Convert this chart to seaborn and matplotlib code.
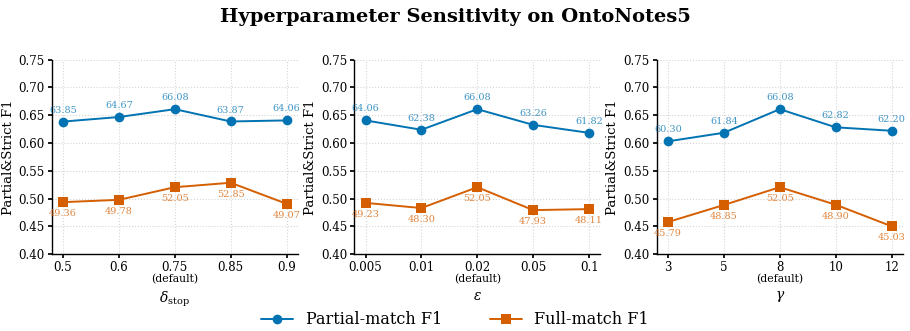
import numpy as np
import pandas as pd
import matplotlib
matplotlib.use("Agg")
import matplotlib.pyplot as plt
import seaborn as sns

sns.set_theme(style="ticks")
plt.rcParams['font.family'] = ['DejaVu Serif']
plt.rcParams['mathtext.fontset'] = 'dejavuserif'
plt.rcParams['text.color'] = 'black'
plt.rcParams['axes.labelcolor'] = 'black'
plt.rcParams['xtick.color'] = 'black'
plt.rcParams['ytick.color'] = 'black'

# data
stop_ticks = ['0.5', '0.6', '0.75', '0.85', '0.9']
stop_partial = [63.85, 64.67, 66.08, 63.87, 64.06]
stop_full = [49.36, 49.78, 52.05, 52.85, 49.07]

eps_ticks = ['0.005', '0.01', '0.02', '0.05', '0.1']
eps_partial = [64.06, 62.38, 66.08, 63.26, 61.82]
eps_full = [49.23, 48.30, 52.05, 47.93, 48.11]

gamma_ticks = ['3', '5', '8', '10', '12']
gamma_partial = [60.30, 61.84, 66.08, 62.82, 62.20]
gamma_full = [45.79, 48.85, 52.05, 48.90, 45.03]

default_idx = 2
xlabels = [r'$\delta_{\mathrm{stop}}$', r'$\varepsilon$', r'$\gamma$']

panels = [
    (stop_ticks, stop_partial, stop_full),
    (eps_ticks, eps_partial, eps_full),
    (gamma_ticks, gamma_partial, gamma_full),
]

blue = '#0173b2'
orange = '#d55e00'

fig, axes = plt.subplots(1, 3, figsize=(9.1, 3.31), dpi=100)
fig.subplots_adjust(left=0.057, right=0.992, top=0.82, bottom=0.232, wspace=0.23)

for ax, (ticks, partial, full), xl in zip(axes, panels, xlabels):
    df = pd.DataFrame({
        'x': np.arange(len(ticks)),
        'partial': np.array(partial) / 100,
        'full': np.array(full) / 100,
    })
    sns.lineplot(data=df, x='x', y='partial', ax=ax, color=blue, marker='o',
                 markersize=7, markeredgewidth=0, linewidth=1.4,
                 label='Partial-match F1', legend=False)
    sns.lineplot(data=df, x='x', y='full', ax=ax, color=orange, marker='s',
                 markersize=7, markeredgewidth=0, linewidth=1.4,
                 label='Full-match F1', legend=False)
    for xi, p, f in zip(df['x'], partial, full):
        ax.annotate(f'{p:.2f}', (xi, p / 100), xytext=(0, 5), textcoords='offset points',
                    ha='center', va='bottom', fontsize=7, color=blue, alpha=0.75)
        ax.annotate(f'{f:.2f}', (xi, f / 100), xytext=(0, -5), textcoords='offset points',
                    ha='center', va='top', fontsize=7, color=orange, alpha=0.75)
    ax.set_ylim(0.40, 0.75)
    ax.set_yticks(np.arange(0.40, 0.751, 0.05))
    ax.set_yticklabels([f'{v:.2f}' for v in np.arange(0.40, 0.751, 0.05)])
    ax.set_xlim(-0.2, 4.2)
    ax.set_xticks(df['x'])
    ax.set_xticklabels(ticks)
    ax.tick_params(labelsize=8.5, length=3, pad=2)
    ax.set_ylabel('Partial&Strict F1', fontsize=9.5, labelpad=3)
    ax.set_xlabel(xl, fontsize=10, labelpad=11)
    ax.text(default_idx, -0.1, '(default)', transform=ax.get_xaxis_transform(),
            ha='center', va='top', fontsize=7.8)
    ax.grid(True, linestyle=':', color='#d5d5d5', linewidth=0.8)
    sns.despine(ax=ax)
    for s in ['left', 'bottom']:
        ax.spines[s].set_color('black')
        ax.spines[s].set_linewidth(1.0)

fig.suptitle('Hyperparameter Sensitivity on OntoNotes5', fontsize=14,
             fontweight='bold', y=0.975)
handles, labels = axes[0].get_legend_handles_labels()
fig.legend(handles, labels, loc='lower center', ncol=2, frameon=False,
           fontsize=11.5, bbox_to_anchor=(0.5, -0.035), columnspacing=3)

fig.savefig('out.png', dpi=100)
